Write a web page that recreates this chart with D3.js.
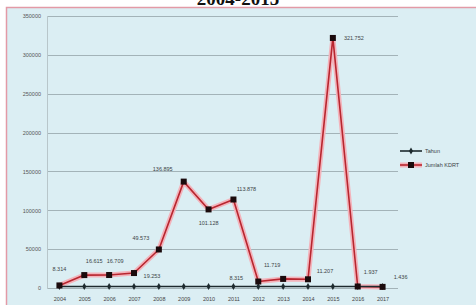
<!DOCTYPE html>
<html>
<head>
<meta charset="utf-8">
<script src="https://cdn.jsdelivr.net/npm/d3@7"></script>
<style>
  body { margin: 0; background: #fff; }
  svg { display: block; font-family: "Liberation Sans", Arial, sans-serif; }
</style>
</head>
<body>
<svg class="chart"></svg>
<script>
var years = [2004, 2005, 2006, 2007, 2008, 2009, 2010, 2011, 2012, 2013, 2014, 2015, 2016, 2017];
var tahun = years.slice();
var kdrt = [3314, 16615, 16709, 19253, 49573, 136895, 101128, 113878, 8315, 11719, 11207, 321752, 1937, 1436];
var kdrtLabels = ["8.314", "16.615", "16.709", "19.253", "49.573", "136.895", "101.128", "113.878", "8.315", "11.719", "11.207", "321.752", "1.937", "1.436"];
var yTicks = [0, 50000, 100000, 150000, 200000, 250000, 300000, 350000];
var seriesNames = ["Tahun", "Jumlah KDRT"];

// where each data label sits relative to its point
var labelPos = [[0, -16], [10, -14], [6, -14], [18, 3], [-18, -11], [-21, -13], [0, 14], [13, -11], [-22, -4], [-11, -14], [17, -8], [21, 0], [13, -14], [18, -10]];

var W = 476, H = 305;

var svg = d3.select(".chart")
    .attr("width", W)
    .attr("height", H);

// title, mostly cut off by the top edge
svg.append("text")
    .attr("x", 238)
    .attr("y", 5)
    .attr("text-anchor", "middle")
    .attr("font-family", "'Liberation Serif', serif")
    .attr("font-weight", "bold")
    .attr("font-size", 19)
    .attr("fill", "#111")
    .text("2004-2015");

// panel
svg.append("rect")
    .attr("x", 6.5)
    .attr("y", 7.5)
    .attr("width", 476)
    .attr("height", 310)
    .attr("fill", "#dbeef3")
    .attr("stroke", "#e39aa6")
    .attr("stroke-width", 1.5);

var x = d3.scalePoint()
    .domain(years)
    .range([47, 395])
    .padding(0.5);

var y = d3.scaleLinear()
    .domain([0, 350000])
    .range([288, 16]);

// gridlines
svg.append("g")
    .selectAll("line")
    .data(yTicks)
    .enter().append("line")
    .attr("x1", 47)
    .attr("x2", 398)
    .attr("y1", function(d) { return Math.round(y(d)) + 0.5; })
    .attr("y2", function(d) { return Math.round(y(d)) + 0.5; })
    .attr("stroke", "#a3b3b8")
    .attr("stroke-width", 1);

// left axis line
svg.append("line")
    .attr("x1", 47.5).attr("x2", 47.5)
    .attr("y1", 16).attr("y2", 289)
    .attr("stroke", "#b8c6ca");

var yAxis = d3.axisLeft(y)
    .tickValues(yTicks)
    .tickSize(0)
    .tickPadding(6)
    .tickFormat(d3.format("d"));

var gy = svg.append("g")
    .attr("transform", "translate(47,0)")
    .call(yAxis);
gy.select(".domain").remove();
gy.selectAll("text")
    .attr("font-size", 5.5)
    .attr("fill", "#555");

var xAxis = d3.axisBottom(x)
    .tickSize(0)
    .tickPadding(6);

var gx = svg.append("g")
    .attr("transform", "translate(0,291)")
    .call(xAxis);
gx.select(".domain").remove();
gx.selectAll("text")
    .attr("font-size", 5.5)
    .attr("fill", "#444");

// Jumlah KDRT line, pink glow under red
var kline = d3.line()
    .x(function(d, i) { return x(years[i]); })
    .y(function(d) { return y(d); });

svg.append("path")
    .datum(kdrt)
    .attr("d", kline)
    .attr("fill", "none")
    .attr("stroke", "#f3b3bb")
    .attr("stroke-width", 5)
    .attr("stroke-linejoin", "round");

svg.append("path")
    .datum(kdrt)
    .attr("d", kline)
    .attr("fill", "none")
    .attr("stroke", "#b8262f")
    .attr("stroke-width", 1.6)
    .attr("stroke-linejoin", "round");

// Tahun line
svg.append("path")
    .datum(tahun)
    .attr("d", kline)
    .attr("fill", "none")
    .attr("stroke", "#1d2a2e")
    .attr("stroke-width", 1.6);

svg.append("g")
    .selectAll("path")
    .data(tahun)
    .enter().append("path")
    .attr("d", d3.symbol().type(d3.symbolDiamond).size(14))
    .attr("transform", function(d, i) { return "translate(" + x(years[i]) + "," + y(d) + ")"; })
    .attr("fill", "#1d2a2e");

svg.append("g")
    .selectAll("rect")
    .data(kdrt)
    .enter().append("rect")
    .attr("x", function(d, i) { return x(years[i]) - 3; })
    .attr("y", function(d) { return y(d) - 3; })
    .attr("width", 6)
    .attr("height", 6)
    .attr("fill", "#1a0a0c");

// data labels
svg.append("g")
    .selectAll("text")
    .data(kdrt)
    .enter().append("text")
    .attr("x", function(d, i) { return x(years[i]) + labelPos[i][0]; })
    .attr("y", function(d, i) { return y(d) + labelPos[i][1] + 2; })
    .attr("text-anchor", "middle")
    .attr("font-size", 5.5)
    .attr("fill", "#3c4446")
    .text(function(d, i) { return kdrtLabels[i]; });

// legend
var legend = svg.append("g")
    .attr("transform", "translate(400,151)");

legend.append("line")
    .attr("x1", 0).attr("x2", 22)
    .attr("y1", 0).attr("y2", 0)
    .attr("stroke", "#1d2a2e")
    .attr("stroke-width", 1.6);
legend.append("path")
    .attr("d", d3.symbol().type(d3.symbolDiamond).size(14))
    .attr("transform", "translate(11,0)")
    .attr("fill", "#1d2a2e");
legend.append("text")
    .attr("x", 25).attr("y", 2)
    .attr("font-size", 5.5)
    .attr("fill", "#3c4446")
    .text(seriesNames[0]);

legend.append("line")
    .attr("x1", 0).attr("x2", 22)
    .attr("y1", 14).attr("y2", 14)
    .attr("stroke", "#f3b3bb")
    .attr("stroke-width", 5);
legend.append("line")
    .attr("x1", 0).attr("x2", 22)
    .attr("y1", 14).attr("y2", 14)
    .attr("stroke", "#b8262f")
    .attr("stroke-width", 1.6);
legend.append("rect")
    .attr("x", 8).attr("y", 11)
    .attr("width", 6).attr("height", 6)
    .attr("fill", "#1a0a0c");
legend.append("text")
    .attr("x", 25).attr("y", 16)
    .attr("font-size", 5.5)
    .attr("fill", "#3c4446")
    .text(seriesNames[1]);
</script>
</body>
</html>
